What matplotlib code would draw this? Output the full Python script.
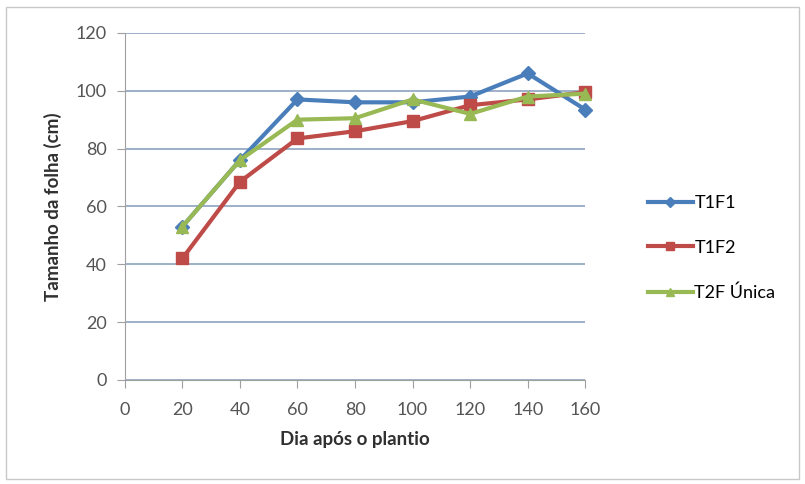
import matplotlib
matplotlib.use("Agg")
import matplotlib.pyplot as plt
from matplotlib.patches import Rectangle

# Data
days = [20, 40, 60, 80, 100, 120, 140, 160]
t1f1 = [53, 76, 97, 96, 96, 98, 106, 93.5]
t1f2 = [42, 68.5, 83.5, 86, 89.5, 95, 97, 99.5]
t2f_unica = [53, 76, 90, 90.5, 97, 92, 98, 99]

series = [
    ("T1F1", t1f1, "#4A7EBB", "D", 7),
    ("T1F2", t1f2, "#BE4B48", "s", 8),
    ("T2F Única", t2f_unica, "#98B954", "^", 8),
]

plt.rcParams['font.family'] = ['Lato', 'DejaVu Sans']

fig = plt.figure(figsize=(8.05, 4.84), dpi=100)
ax = fig.add_axes([0.155, 0.215, 0.572, 0.717])

for name, vals, color, marker, ms in series:
    ax.plot(days, vals, color=color, marker=marker, markersize=ms,
            linewidth=3, label=name, solid_joinstyle="round", clip_on=False)

ax.set_xlim(0, 160)
ax.set_ylim(0, 120)
ax.set_xticks(range(0, 161, 20))
ax.set_yticks(range(0, 121, 20))
ax.yaxis.grid(True, color="#8EA3C0", linewidth=1.2)
ax.set_axisbelow(True)

for side in ["top", "right"]:
    ax.spines[side].set_visible(False)
for side in ["left", "bottom"]:
    ax.spines[side].set_color("#A0A0A0")
ax.tick_params(colors="#A0A0A0", labelcolor="#555555", labelsize=13,
               length=6, direction="out")
ax.tick_params(axis="y", pad=7)
ax.tick_params(axis="x", pad=10)

ax.set_xlabel("Dia após o plantio", fontsize=13.5, fontweight="bold",
              color="#303030", labelpad=9)
ax.set_ylabel("Tamanho da folha (cm)", fontsize=13.5, fontweight="bold",
              color="#303030", labelpad=10)

ax.legend(loc="center left", bbox_to_anchor=(1.10, 0.38), frameon=False,
          fontsize=13, labelspacing=1.6, handlelength=2.5, handletextpad=0.1,
          markerscale=0.75)

# outer chart frame
fig.patches.append(Rectangle((0.008, 0.01), 0.985, 0.975, transform=fig.transFigure,
                             fill=False, edgecolor="#C8C8C8", linewidth=1))

fig.savefig("out.png", dpi=100)
